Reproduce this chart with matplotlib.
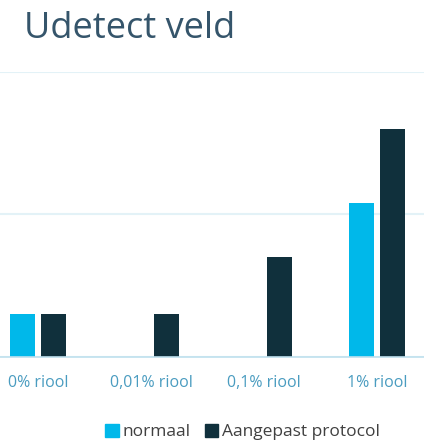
import numpy as np
import matplotlib
matplotlib.use('Agg')
import matplotlib.pyplot as plt
from matplotlib.patches import Patch

categories = ['0% riool', '0,01% riool', '0,1% riool', '1% riool']
normaal = [0.30, np.nan, np.nan, 1.08]
aangepast = [0.30, 0.30, 0.70, 1.60]
series_names = ['normaal', 'Aangepast protocol']

c_norm = '#00B8EA'
c_aang = '#10303C'

plt.rcParams['font.family'] = ['Open Sans', 'DejaVu Sans']

fig = plt.figure(figsize=(4.24, 4.44), dpi=100)
ax = fig.add_axes([0, 0.196, 1, 0.642])

x = np.arange(len(categories))
w = 0.22
off = 0.14
ax.bar(x - off, normaal, w, color=c_norm)
ax.bar(x + off, aangepast, w, color=c_aang)

ax.set_xlim(-0.336, 3.416)
ax.set_ylim(0, 2)
ax.set_yticks([0, 1, 2])
ax.yaxis.grid(True, color='#E3F2F7', linewidth=1.5)
ax.set_axisbelow(True)
ax.tick_params(axis='y', left=False, labelleft=False)
ax.tick_params(axis='x', length=0, pad=13, labelsize=11.5, labelcolor='#4A9CC0')
ax.set_xticks(x)
ax.set_xticklabels(categories)
for s in ['top', 'right', 'left']:
    ax.spines[s].set_visible(False)
ax.spines['bottom'].set_color('#BFE0EE')
ax.spines['bottom'].set_linewidth(1.2)

fig.text(0.057, 0.935, 'Udetect veld', fontsize=26, color='#35556B', va='center')

handles = [Patch(color=c_norm), Patch(color=c_aang)]
fig.legend(handles, series_names, loc='center', bbox_to_anchor=(0.572, 0.027),
           ncol=2, frameon=False, fontsize=12.5, labelcolor='#404040',
           handlelength=0.8, handleheight=0.8, handletextpad=0.2, columnspacing=0.8)

fig.savefig('out.png', dpi=100)
